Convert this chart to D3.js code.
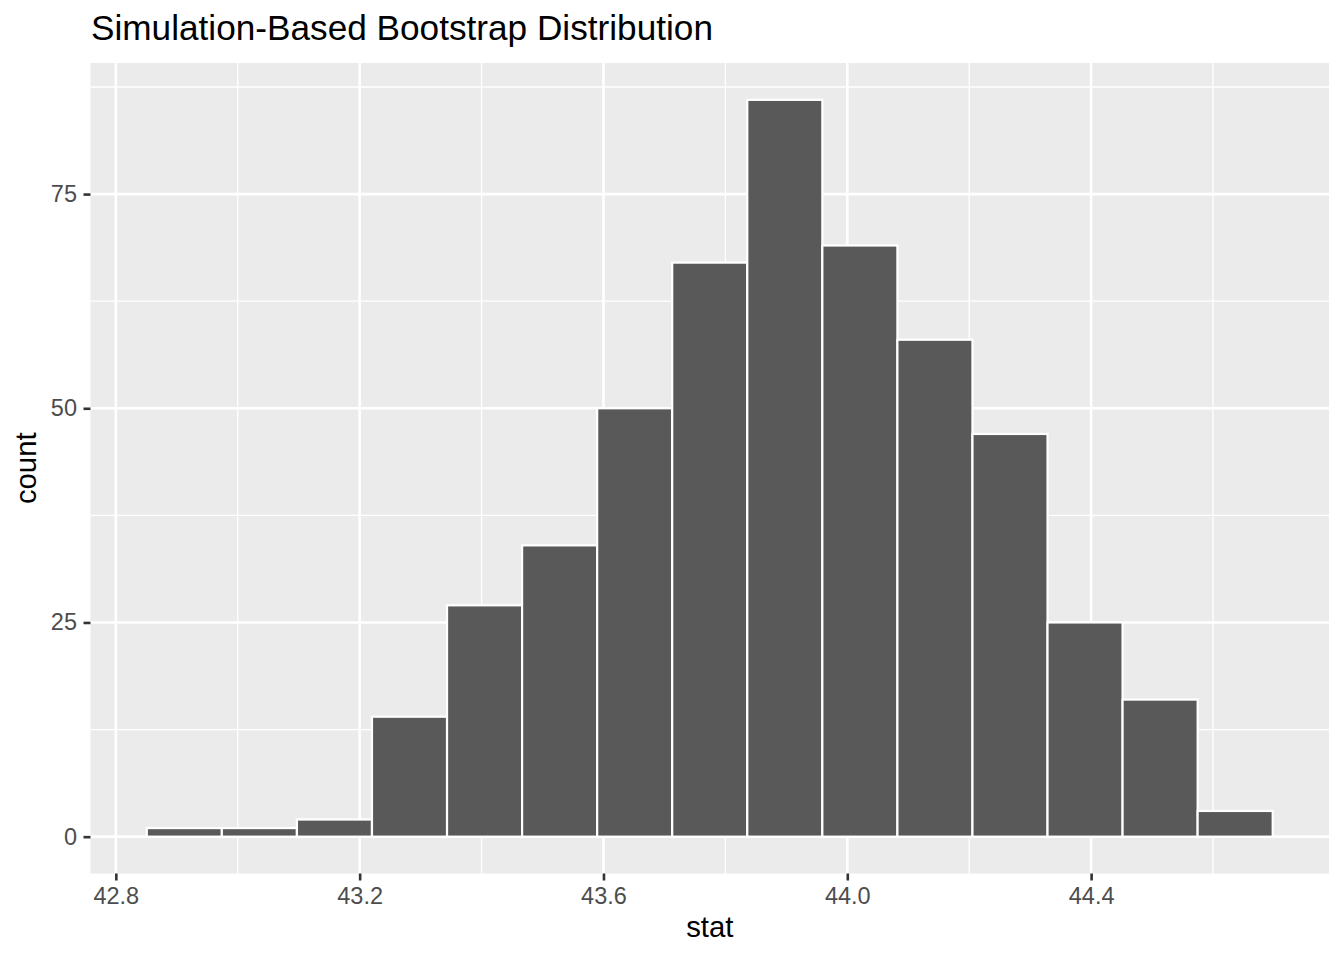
<!DOCTYPE html>
<html>
<head>
<meta charset="utf-8">
<script src="https://cdn.jsdelivr.net/npm/d3@7"></script>
<style>
  html, body { margin: 0; padding: 0; background: #ffffff; }
  svg { display: block; font-family: "Liberation Sans", Arial, sans-serif; }
</style>
</head>
<body>
<svg id="chart" width="1344" height="960"></svg>
<script>
// Data
const binStart = 42.8508;
const binWidth = 0.12314;
const counts = [1, 1, 2, 14, 27, 34, 50, 67, 86, 69, 58, 47, 25, 16, 3];
const xTicks = [42.8, 43.2, 43.6, 44.0, 44.4];
const xMinor = [43.0, 43.4, 43.8, 44.2, 44.6];
const yTicks = [0, 25, 50, 75];
const yMinor = [12.5, 37.5, 62.5, 87.5];
const titleText = "Simulation-Based Bootstrap Distribution";
const xLabel = "stat";
const yLabel = "count";

const bins = counts.map((c, i) => ({ x0: binStart + i * binWidth, x1: binStart + (i + 1) * binWidth, count: c }));

const svg = d3.select("#chart");
const panel = { left: 90.5, right: 1329, top: 63, bottom: 873.5 };

const xLo = bins[0].x0, xHi = bins[bins.length - 1].x1;
const xPad = (xHi - xLo) * 0.05;
const yMax = d3.max(counts);
const x = d3.scaleLinear().domain([xLo - xPad, xHi + xPad]).range([panel.left, panel.right]);
const y = d3.scaleLinear().domain([-yMax * 0.05, yMax * 1.05]).range([panel.bottom, panel.top]);

// Panel background
svg.append("rect")
  .attr("x", panel.left).attr("y", panel.top)
  .attr("width", panel.right - panel.left).attr("height", panel.bottom - panel.top)
  .attr("fill", "#EBEBEB");

const grid = svg.append("g");
// minor grid
grid.selectAll(".xminor").data(xMinor).enter().append("line")
  .attr("x1", d => x(d)).attr("x2", d => x(d))
  .attr("y1", panel.top).attr("y2", panel.bottom)
  .attr("stroke", "#ffffff").attr("stroke-width", 1.3);
grid.selectAll(".yminor").data(yMinor).enter().append("line")
  .attr("y1", d => y(d)).attr("y2", d => y(d))
  .attr("x1", panel.left).attr("x2", panel.right)
  .attr("stroke", "#ffffff").attr("stroke-width", 1.3);
// major grid
grid.selectAll(".xmajor").data(xTicks).enter().append("line")
  .attr("x1", d => x(d)).attr("x2", d => x(d))
  .attr("y1", panel.top).attr("y2", panel.bottom)
  .attr("stroke", "#ffffff").attr("stroke-width", 2.6);
grid.selectAll(".ymajor").data(yTicks).enter().append("line")
  .attr("y1", d => y(d)).attr("y2", d => y(d))
  .attr("x1", panel.left).attr("x2", panel.right)
  .attr("stroke", "#ffffff").attr("stroke-width", 2.6);

// Bars
svg.append("g").selectAll("rect").data(bins).enter().append("rect")
  .attr("x", d => x(d.x0))
  .attr("width", d => x(d.x1) - x(d.x0))
  .attr("y", d => y(d.count))
  .attr("height", d => y(0) - y(d.count))
  .attr("fill", "#595959")
  .attr("stroke", "#ffffff")
  .attr("stroke-width", 2.2);

// Axes
const xAxis = d3.axisBottom(x).tickValues(xTicks).tickFormat(d3.format(".1f")).tickSize(7).tickPadding(6.5);
const gx = svg.append("g").attr("transform", `translate(0,${panel.bottom})`).call(xAxis);
gx.select(".domain").remove();
gx.selectAll(".tick line").attr("stroke", "#333333").attr("stroke-width", 2.6);
gx.selectAll(".tick text").attr("fill", "#4D4D4D").attr("font-size", 23.5)
  .attr("font-family", "Liberation Sans, Arial, sans-serif");

const yAxis = d3.axisLeft(y).tickValues(yTicks).tickFormat(d3.format("d")).tickSize(7).tickPadding(6.5);
const gy = svg.append("g").attr("transform", `translate(${panel.left},0)`).call(yAxis);
gy.select(".domain").remove();
gy.selectAll(".tick line").attr("stroke", "#333333").attr("stroke-width", 2.6);
gy.selectAll(".tick text").attr("fill", "#4D4D4D").attr("font-size", 23.5)
  .attr("font-family", "Liberation Sans, Arial, sans-serif");

// Titles
svg.append("text").attr("x", 91).attr("y", 40)
  .attr("font-size", 35.2).attr("fill", "#000000").text(titleText);
svg.append("text").attr("x", (panel.left + panel.right) / 2).attr("y", 937)
  .attr("text-anchor", "middle").attr("font-size", 29.3).attr("fill", "#000000").text(xLabel);
svg.append("text")
  .attr("transform", `translate(35.5,${(panel.top + panel.bottom) / 2}) rotate(-90)`)
  .attr("text-anchor", "middle").attr("font-size", 29.3).attr("fill", "#000000").text(yLabel);
</script>
</body>
</html>
